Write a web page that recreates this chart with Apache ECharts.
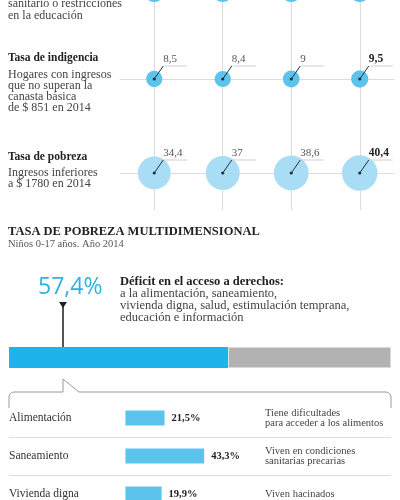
<!DOCTYPE html>
<html>
<head>
<meta charset="utf-8">
<script src="https://cdn.jsdelivr.net/npm/echarts@6/dist/echarts.min.js"></script>
<style>
  html, body { margin: 0; padding: 0; background: #fff; }
  #chart { width: 400px; height: 500px; }
</style>
</head>
<body>
<div id="chart"></div>
<script>
// columnas (cabeceras fuera del recorte)
var columnas = ['2011', '2012', '2013', '2014'];
// fila superior, casi fuera de la imagen (valores estimados)
var filaSuperior = [13, 13, 13, 13];
var indigencia = [8.5, 8.4, 9, 9.5];
var pobreza = [34.4, 37, 38.6, 40.4];

var pobrezaMulti = 57.4;

var derechos = ['Alimentación', 'Saneamiento', 'Vivienda digna'];
var derechosPct = [21.5, 43.3, 19.9];
var derechosNota = ['Tiene dificultades\npara acceder a los alimentos', 'Viven en condiciones\nsanitarias precarias', 'Viven hacinados'];

var SERIF = 'Liberation Serif';
function coma(v) { return String(v).replace('.', ','); }

var myChart = echarts.init(document.getElementById('chart'), null, { renderer: 'canvas' });

// filas de burbujas: centro vertical de cada fila
var filas = [
    { datos: filaSuperior, y: -8, color: '#5ec3ec' },
    { datos: indigencia, y: 79, color: '#5ec3ec' },
    { datos: pobreza, y: 173, color: '#a9dcf5' }
];

var grids = [{ left: 154, right: 40, top: 0, height: 210, outerBoundsMode: 'none' }];
var xAxes = [{
    gridIndex: 0, type: 'category', data: columnas, boundaryGap: false,
    axisLine: { show: false }, axisTick: { show: false }, axisLabel: { show: false },
    splitLine: { show: true, lineStyle: { color: '#dcdcdc', width: 1 } }
}];
var yAxes = [{ gridIndex: 0, type: 'value', show: false }];
var series = [];

filas.forEach(function(f, i) {
    var g = i + 1;
    grids.push({ left: 120, right: 6, top: f.y - 20, height: 40, outerBoundsMode: 'none' });
    xAxes.push({
        gridIndex: g, type: 'category', data: columnas, boundaryGap: true,
        axisLine: { show: true, onZero: true, lineStyle: { color: '#dcdcdc' } },
        axisTick: { show: false }, axisLabel: { show: false }, splitLine: { show: false }
    });
    yAxes.push({ gridIndex: g, type: 'value', min: -1, max: 1, show: false });
    series.push({
        type: 'custom',
        xAxisIndex: g, yAxisIndex: g,
        data: f.datos.map(function(v, k) { return [k, 0, v]; }),
        renderItem: function(params, api) {
            var p = api.coord([api.value(0), api.value(1)]);
            var v = api.value(2);
            var r = 5.6 * Math.sqrt(v) / 2;
            var last = params.dataIndex === columnas.length - 1;
            var lx = p[0] + 9, ly = p[1] - 13;
            return {
                type: 'group',
                children: [
                    { type: 'circle', shape: { cx: p[0], cy: p[1], r: r }, style: { fill: f.color } },
                    { type: 'line', shape: { x1: lx + 1, y1: ly, x2: lx + 24, y2: ly }, style: { stroke: '#cfcfcf', lineWidth: 1 } },
                    { type: 'line', shape: { x1: p[0], y1: p[1], x2: lx, y2: ly }, style: { stroke: '#1f3440', lineWidth: 1 } },
                    { type: 'circle', shape: { cx: p[0], cy: p[1], r: 1.6 }, style: { fill: '#1f3440' } },
                    { type: 'text', x: lx, y: ly - 1, style: {
                        text: coma(v), fontFamily: SERIF, fontSize: last ? 11.5 : 11,
                        fontWeight: last ? 'bold' : 'normal', fill: last ? '#222' : '#555',
                        align: 'left', verticalAlign: 'bottom'
                    } }
                ]
            };
        }
    });
});

// barra 57,4%
grids.push({ left: 9, right: 9, top: 347, height: 21, outerBoundsMode: 'none' });
xAxes.push({ gridIndex: 4, type: 'value', min: 0, max: 100, show: false });
yAxes.push({ gridIndex: 4, type: 'category', data: ['Niños'], show: false });
series.push({ type: 'bar', xAxisIndex: 4, yAxisIndex: 4, stack: 'm', barWidth: 21, data: [pobrezaMulti],
    itemStyle: { color: '#1db4ea' }, silent: true });
series.push({ type: 'bar', xAxisIndex: 4, yAxisIndex: 4, stack: 'm', barWidth: 21, data: [+(100 - pobrezaMulti).toFixed(1)],
    itemStyle: { color: '#b2b2b2', borderColor: '#fff', borderWidth: 0.5 }, silent: true });

// derechos
grids.push({ left: 9, right: 9, top: 399, height: 114, outerBoundsMode: 'none' });
xAxes.push({ gridIndex: 5, type: 'value', min: -64, max: 146, show: false });
yAxes.push({
    gridIndex: 5, type: 'category', data: derechos, inverse: true,
    axisLine: { show: false }, axisTick: { show: false },
    axisLabel: { inside: true, margin: 0, align: 'left', fontFamily: SERIF, fontSize: 11.5, color: '#333' },
    splitLine: { show: true, showMinLine: false, showMaxLine: false, lineStyle: { color: '#dddddd' } }
});
yAxes.push({
    gridIndex: 5, type: 'category', data: derechos, inverse: true, position: 'right',
    axisLine: { show: false }, axisTick: { show: false },
    axisLabel: { inside: true, margin: 126, align: 'left', fontFamily: SERIF, fontSize: 10.5, lineHeight: 10, color: '#444',
        formatter: function(val, idx) { return derechosNota[idx]; } },
    splitLine: { show: false }
});
series.push({
    type: 'bar', xAxisIndex: 5, yAxisIndex: 5, barWidth: 15, data: derechosPct,
    itemStyle: { color: '#5cc3ec' },
    label: { show: true, position: 'right', distance: 7, fontFamily: SERIF, fontSize: 10.5, fontWeight: 'bold', color: '#222',
        formatter: function(p) { return coma(p.value) + '%'; } }
});

function txt(x, y, s, size, bold, color) {
    return { type: 'text', x: x, y: y, silent: true, style: {
        text: s, fontFamily: SERIF, fontSize: size, fontWeight: bold ? 'bold' : 'normal',
        fill: color, verticalAlign: 'middle', align: 'left' } };
}

var graphics = [
    txt(8, 4, 'sanitario o restricciones', 12, false, '#444'),
    txt(8, 16, 'en la educación', 12, false, '#444'),
    txt(8, 58, 'Tasa de indigencia', 11.5, true, '#222'),
    txt(8, 75, 'Hogares con ingresos', 12, false, '#444'),
    txt(8, 86, 'que no superan la', 12, false, '#444'),
    txt(8, 96.5, 'canasta básica', 12, false, '#444'),
    txt(8, 107.5, 'de $ 851 en 2014', 12, false, '#444'),
    txt(8, 157, 'Tasa de pobreza', 11.5, true, '#222'),
    txt(8, 173, 'Ingresos inferiores', 12, false, '#444'),
    txt(8, 184, 'a $ 1780 en 2014', 12, false, '#444'),
    txt(8, 232, 'TASA DE POBREZA MULTIDIMENSIONAL', 12.5, true, '#222'),
    txt(8, 244, 'Niños 0-17 años. Año 2014', 10.5, false, '#555'),
    txt(120, 282, 'Déficit en el acceso a derechos:', 12.5, true, '#222'),
    txt(120, 294, 'a la alimentación, saneamiento,', 12.5, false, '#444'),
    txt(120, 306, 'vivienda digna, salud, estimulación temprana,', 12.5, false, '#444'),
    txt(120, 318, 'educación e información', 12.5, false, '#444'),
    { type: 'text', x: 38, y: 287, silent: true, style: {
        text: coma(pobrezaMulti) + '%', fontFamily: 'Open Sans', fontSize: 23,
        fill: '#2fb1e2', verticalAlign: 'middle', align: 'left' } },
    { type: 'line', silent: true, shape: { x1: 63, y1: 305, x2: 63, y2: 347 }, style: { stroke: '#555', lineWidth: 2 } },
    { type: 'polygon', silent: true, shape: { points: [[59, 302], [67, 302], [63, 308]] }, style: { fill: '#222' } },
    { type: 'polyline', silent: true, shape: {
        points: [[9, 408], [9, 397], [9.6, 394.5], [11.5, 392.6], [14, 392], [63, 392], [63, 379], [79, 392],
                 [386, 392], [388.5, 392.6], [390.4, 394.5], [391, 397], [391, 408]] },
        style: { stroke: '#9a9a9a', lineWidth: 1, fill: null } }
];

var option = {
    animation: false,
    backgroundColor: '#fff',
    grid: grids,
    xAxis: xAxes,
    yAxis: yAxes,
    series: series,
    graphic: graphics
};
myChart.setOption(option);
</script>
</body>
</html>
